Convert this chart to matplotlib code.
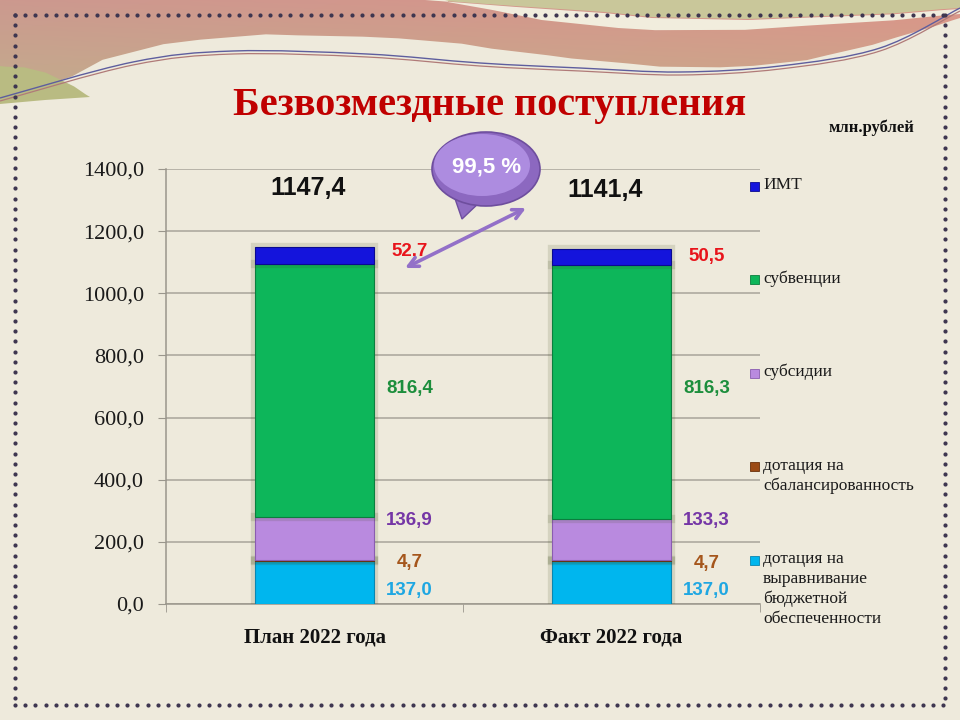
import numpy as np
import matplotlib.pyplot as plt
import matplotlib.patheffects as pe
from matplotlib.patches import Ellipse, Polygon, PathPatch, Rectangle
from matplotlib.path import Path

# chart data (млн.рублей)
categories = ['План 2022 года', 'Факт 2022 года']
vyravnivanie = [137.0, 137.0]
sbalans = [4.7, 4.7]
subsidii = [136.9, 133.3]
subvencii = [816.4, 816.3]
imt = [52.7, 50.5]
totals = [1147.4, 1141.4]
execution = '99,5 %'

series = [vyravnivanie, sbalans, subsidii, subvencii, imt]
series_names = ['дотация на\nвыравнивание\nбюджетной\nобеспеченности',
                'дотация на\nсбалансированность', 'субсидии', 'субвенции', 'ИМТ']
yticks = [0, 200, 400, 600, 800, 1000, 1200, 1400]

# styles
bar_colors = ['#00B6EE', '#9B4A14', '#B98ADF', '#0DB65A', '#1414DC']
edge_colors = ['#0A86B0', '#6A300A', '#8A5CB0', '#0B7E3E', '#0A0A90']
label_colors = ['#1FA7E2', '#A5561C', '#7536A6', '#1C8E3C', '#E8141B']
# label heights for each category (layout only)
label_y = [[45, 135, 270, 695, 1133], [45, 129, 270, 695, 1120]]
bg_color = '#EEEADC'


def smooth(points):
    # Catmull-Rom through points -> cubic bezier path pieces
    pts = np.asarray(points, dtype=float)
    verts = [pts[0]]
    codes = [Path.MOVETO]
    for i in range(len(pts) - 1):
        p0 = pts[i - 1] if i > 0 else pts[i]
        p1, p2 = pts[i], pts[i + 1]
        p3 = pts[i + 2] if i + 2 < len(pts) else pts[i + 1]
        verts += [p1 + (p2 - p0) / 6, p2 - (p3 - p1) / 6, p2]
        codes += [Path.CURVE4] * 3
    return verts, codes


fig = plt.figure(figsize=(9.6, 7.2), dpi=100)
fig.patch.set_facecolor(bg_color)

# --- background decoration (pixel coords) ---
bg = fig.add_axes([0, 0, 1, 1], zorder=0)
bg.set_xlim(0, 960)
bg.set_ylim(720, 0)
bg.axis('off')

low_edge = [(0, 98), (50, 84), (133, 52), (233, 37), (330, 36), (430, 41),
            (520, 52), (600, 61), (690, 67), (780, 63), (850, 50), (915, 32), (960, 18)]
v, c = smooth(low_edge)
band_verts = [(0, 0), (960, 0)] + [(960, 18)] + v[::-1][1:] + [(0, 98), (0, 0)]
band = PathPatch(Path(band_verts), facecolor='none', edgecolor='none')
bg.add_patch(band)
# gradient fill for the top band
gx = np.linspace(0, 1, 200)
gy = np.linspace(0, 1, 60)[:, None]
top_l, top_r = np.array([0.80, 0.60, 0.56]), np.array([0.86, 0.58, 0.54])
bot_l, bot_r = np.array([0.76, 0.68, 0.55]), np.array([0.80, 0.66, 0.54])
top = top_l + (top_r - top_l) * gx[:, None]
bot = bot_l + (bot_r - bot_l) * gx[:, None]
img = top[None, :, :] * (1 - gy[..., None]) + bot[None, :, :] * gy[..., None]
im = bg.imshow(img, extent=(0, 960, 100, 0), aspect='auto', zorder=1)
im.set_clip_path(band)

# olive top-right and cream ribbon
olive_v, _ = smooth([(430, 0), (560, 9), (700, 18), (850, 15), (960, 8)])
bg.add_patch(Polygon([(430, 0)] + olive_v[1:] + [(960, 0)], closed=True,
                     facecolor='#C9C79A', edgecolor='none', zorder=2))
rib_up, _ = smooth([(425, 0), (560, 10), (700, 19), (850, 16), (960, 9)])
rib_lo, _ = smooth([(960, 14), (850, 23), (700, 30), (580, 24), (470, 6), (445, 0)])
bg.add_patch(Polygon(rib_up + rib_lo, closed=True, facecolor='#F1EDDD',
                     edgecolor='none', zorder=2))
# green wedge at the left
wedge, _ = smooth([(0, 66), (35, 70), (65, 82), (90, 97)])
bg.add_patch(Polygon(wedge + [(45, 100), (0, 104)], closed=True,
                     facecolor='#B9BB82', edgecolor='none', zorder=2))

# thin swoosh lines
line_pts = [(0, 98), (133, 62), (233, 51), (367, 54), (480, 63), (580, 68),
            (680, 72), (780, 66), (880, 48), (960, 8)]
lv, lc = smooth(line_pts)
bg.add_patch(PathPatch(Path(lv, lc), facecolor='none', edgecolor='#5E5E9E', lw=1.0, zorder=3))
lv2 = [(px, py + 3) for px, py in lv]
bg.add_patch(PathPatch(Path(lv2, lc), facecolor='none', edgecolor='#B07A78', lw=0.9, zorder=3))

# dotted frame
dot_c = '#3E3650'
xs = np.arange(15, 946, 10.2)
ys = np.arange(15, 706, 10.2)
bg.scatter(xs, np.full_like(xs, 15), s=9, color=dot_c, zorder=4, lw=0)
bg.scatter(xs, np.full_like(xs, 705), s=9, color=dot_c, zorder=4, lw=0)
bg.scatter(np.full_like(ys, 15), ys, s=9, color=dot_c, zorder=4, lw=0)
bg.scatter(np.full_like(ys, 945), ys, s=9, color=dot_c, zorder=4, lw=0)

# --- main chart ---
ax = fig.add_axes([166 / 960, 1 - 604 / 720, 594 / 960, 435 / 720], zorder=1)
ax.set_facecolor('none')
x = np.arange(len(categories))
bottom = np.zeros(len(categories))
glow = [pe.withStroke(linewidth=6, foreground='#3E4A1A', alpha=0.14)]
for vals, col, ec, name in zip(series, bar_colors, edge_colors, series_names):
    ax.bar(x, vals, bottom=bottom, width=0.4, color=col, edgecolor=ec,
           linewidth=0.8, zorder=3, path_effects=glow, label=name)
    bottom += np.array(vals)

lbl_font = dict(family='Liberation Sans', fontweight='bold', fontsize=13.5)
for i in range(len(categories)):
    for j, vals in enumerate(series):
        ax.text(x[i] + 0.32, label_y[i][j], f'{vals[i]:.1f}'.replace('.', ','),
                color=label_colors[j], ha='center', va='center', zorder=5, **lbl_font)
    ax.text(x[i] - 0.02, totals[i] + 190, f'{totals[i]:.1f}'.replace('.', ','),
            ha='center', va='center', color='#111111', family='Liberation Sans',
            fontweight='bold', fontsize=18, zorder=5)

ax.set_xlim(-0.5, 1.5)
ax.set_ylim(0, 1400)
ax.set_yticks(yticks)
ax.set_yticklabels([f'{t:.1f}'.replace('.', ',') for t in yticks],
                   family='Liberation Serif', fontsize=16, color='#1A1A1A')
ax.set_xticks(x)
ax.set_xticklabels(categories, family='Liberation Serif', fontweight='bold',
                   fontsize=15, color='#111111')
ax.set_xticks([-0.5, 0.5, 1.5], minor=True)
ax.tick_params(axis='x', which='major', length=0, pad=17)
ax.tick_params(axis='x', which='minor', length=6, color='#9A968C', direction='out')
ax.tick_params(axis='y', length=6, color='#9A968C', pad=10)
ax.yaxis.grid(True, color='#A8A49A', lw=1.1, zorder=0)
ax.set_axisbelow(True)
for s in ['top', 'right']:
    ax.spines[s].set_visible(False)
for s in ['left', 'bottom']:
    ax.spines[s].set_color('#9A968C')
    ax.spines[s].set_linewidth(1.1)

# --- foreground: title, legend, callout ---
fg = fig.add_axes([0, 0, 1, 1], zorder=2)
fg.set_xlim(0, 960)
fg.set_ylim(720, 0)
fg.axis('off')
fg.patch.set_alpha(0)

fg.text(490, 105, 'Безвозмездные поступления', ha='center', va='center',
        family='Liberation Serif', fontweight='bold', fontsize=29, color='#C00000')
fg.text(871, 128, 'млн.рублей', ha='center', va='center', family='Liberation Serif',
        fontweight='bold', fontsize=12, color='#111111')

# legend, top entry first
for k, j in enumerate(range(len(series) - 1, -1, -1)):
    yy = 186 + k * 93.5
    fg.add_patch(Rectangle((750, yy - 4.5), 9, 9, facecolor=bar_colors[j],
                           edgecolor=edge_colors[j], lw=0.6))
    fg.text(763, yy - 9, series_names[j], ha='left', va='top', family='Liberation Serif',
            fontsize=12.5, color='#1A1A1A', linespacing=1.32)

# callout bubble with double arrow
fg.add_patch(Polygon([(452, 190), (462, 219), (482, 200)], closed=True,
                     facecolor='#8F6CC2', edgecolor='#6E4E9E', lw=1, zorder=6))
fg.add_patch(Ellipse((486, 169), 108, 74, facecolor='#8C68C0', edgecolor='#6E4E9E',
                     lw=1.2, zorder=7))
fg.add_patch(Ellipse((482, 165), 96, 62, facecolor='#AD8CE0', edgecolor='none', zorder=8))
fg.text(487, 167, execution, ha='center', va='center', color='white',
        family='Liberation Sans', fontweight='bold', fontsize=16, zorder=9)
fg.annotate('', xy=(405, 268), xytext=(526, 208),
            arrowprops=dict(arrowstyle='<->,head_length=0.7,head_width=0.35',
                            color='#9370C8', lw=2.6, shrinkA=0, shrinkB=0), zorder=6)

fig.savefig('out.png', dpi=100, facecolor=fig.get_facecolor())
